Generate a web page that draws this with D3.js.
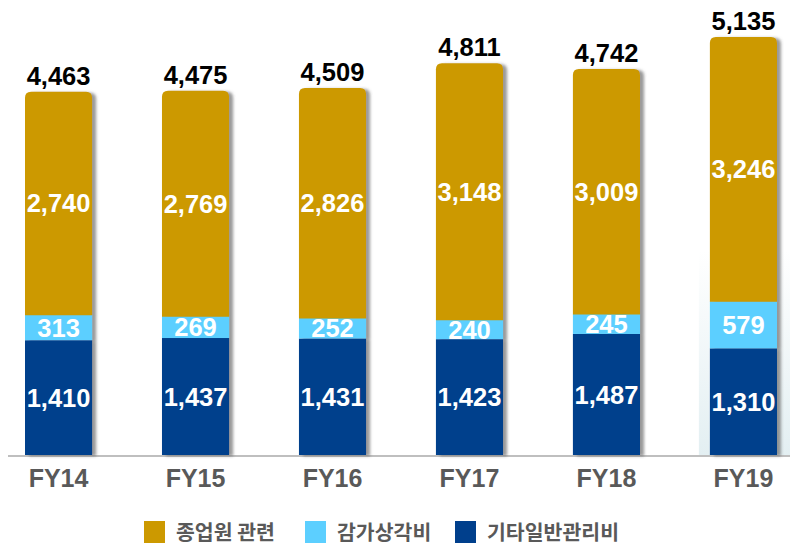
<!DOCTYPE html>
<meta charset="utf-8">
<style>
body { margin: 0; background: #fff; }
svg text { font-family: "Liberation Sans", Arial, sans-serif; font-weight: bold; }
.legend text { font-family: "Noto Sans CJK KR", sans-serif; }
</style>
<body>
<svg width="790" height="547"></svg>
<script src="https://d3js.org/d3.v7.min.js"></script>
<script>

var years = ["FY14", "FY15", "FY16", "FY17", "FY18", "FY19"];
var etcAdmin = [1410, 1437, 1431, 1423, 1487, 1310];     // 기타일반관리비
var depreciation = [313, 269, 252, 240, 245, 579];       // 감가상각비
var employee = [2740, 2769, 2826, 3148, 3009, 3246];     // 종업원 관련
var totals = [4463, 4475, 4509, 4811, 4742, 5135];
var seriesNames = ["종업원 관련", "감가상각비", "기타일반관리비"];
var colors = ["#cc9900", "#5ccfff", "#003f8c"];

var svg = d3.select("svg");
var base = 455;

var x = d3.scaleBand()
    .domain(years)
    .range([25, 777])
    .paddingInner(0.51)
    .paddingOuter(0);

var y = d3.scaleLinear()
    .domain([0, 5135])
    .range([base, 37]);

var defs = svg.append("defs");
var f = defs.append("filter").attr("id", "shadow")
    .attr("x", "-20%").attr("y", "-10%").attr("width", "150%").attr("height", "120%");
f.append("feDropShadow")
    .attr("dx", 4).attr("dy", 1).attr("stdDeviation", 1.6)
    .attr("flood-color", "#555").attr("flood-opacity", 0.6);

var grad = defs.append("linearGradient").attr("id", "bg19")
    .attr("x1", 0).attr("y1", 0).attr("x2", 0).attr("y2", 1);
grad.append("stop").attr("offset", "0%").attr("stop-color", "#ffffff");
grad.append("stop").attr("offset", "100%").attr("stop-color", "#e3eff2");

// faint highlight behind last bar
svg.append("rect")
    .attr("x", x("FY19") - 11)
    .attr("y", 250)
    .attr("width", 790 - (x("FY19") - 11))
    .attr("height", base - 250)
    .attr("fill", "url(#bg19)");

// axis line
svg.append("line")
    .attr("x1", 8).attr("x2", 790)
    .attr("y1", base + 1).attr("y2", base + 1)
    .attr("stroke", "#bfbfbf").attr("stroke-width", 2);

var data = years.map(function(d, i) {
  return { year: d, etc: etcAdmin[i], dep: depreciation[i], emp: employee[i], total: totals[i] };
});

function topRounded(x0, y0, w, h, r) {
  return "M" + x0 + "," + (y0 + h) +
    "V" + (y0 + r) +
    "Q" + x0 + "," + y0 + " " + (x0 + r) + "," + y0 +
    "H" + (x0 + w - r) +
    "Q" + (x0 + w) + "," + y0 + " " + (x0 + w) + "," + (y0 + r) +
    "V" + (y0 + h) + "Z";
}

var bars = svg.append("g").selectAll("g.bar")
  .data(data)
  .enter().append("g")
    .attr("class", "bar")
    .attr("filter", "url(#shadow)");

var bw = x.bandwidth();

bars.append("rect")
    .attr("x", function(d) { return x(d.year); })
    .attr("y", function(d) { return y(d.etc); })
    .attr("width", bw)
    .attr("height", function(d) { return base - y(d.etc); })
    .attr("fill", colors[2]);

bars.append("rect")
    .attr("x", function(d) { return x(d.year); })
    .attr("y", function(d) { return y(d.etc + d.dep); })
    .attr("width", bw)
    .attr("height", function(d) { return y(d.etc) - y(d.etc + d.dep); })
    .attr("fill", colors[1]);

bars.append("path")
    .attr("d", function(d) {
      var top = y(d.etc + d.dep + d.emp);
      return topRounded(x(d.year), top, bw, y(d.etc + d.dep) - top + 0.5, 6);
    })
    .attr("fill", colors[0]);

var fmt = d3.format(",");
var labels = svg.append("g").attr("font-size", 25.5).attr("text-anchor", "middle");

// segment labels
data.forEach(function(d) {
  var cx = x(d.year) + bw / 2;
  var segs = [[0, d.etc], [d.etc, d.etc + d.dep], [d.etc + d.dep, d.etc + d.dep + d.emp]];
  var vals = [d.etc, d.dep, d.emp];
  segs.forEach(function(s, j) {
    labels.append("text")
      .attr("x", cx)
      .attr("y", (y(s[0]) + y(s[1])) / 2)
      .attr("dy", "0.36em")
      .attr("fill", "#fff")
      .text(fmt(vals[j]));
  });
  labels.append("text")
    .attr("x", cx)
    .attr("y", y(d.total) - 7)
    .attr("fill", "#000")
    .text(fmt(d.total));
});

// x axis labels
svg.append("g").selectAll("text")
  .data(years)
  .enter().append("text")
    .attr("x", function(d) { return x(d) + bw / 2; })
    .attr("y", 487)
    .attr("text-anchor", "middle")
    .attr("font-size", 25)
    .attr("fill", "#595959")
    .text(function(d) { return d; });

// legend
var legendX = [144, 305, 455];
var lg = svg.append("g").attr("class", "legend");
seriesNames.forEach(function(name, i) {
  lg.append("rect")
    .attr("x", legendX[i]).attr("y", 521)
    .attr("width", 21).attr("height", 22)
    .attr("fill", colors[i]);
  lg.append("text")
    .attr("x", legendX[i] + 32)
    .attr("y", 540)
    .attr("font-size", 20.5)
    .attr("fill", "#595959")
    .text(name);
});

</script>
</body>
